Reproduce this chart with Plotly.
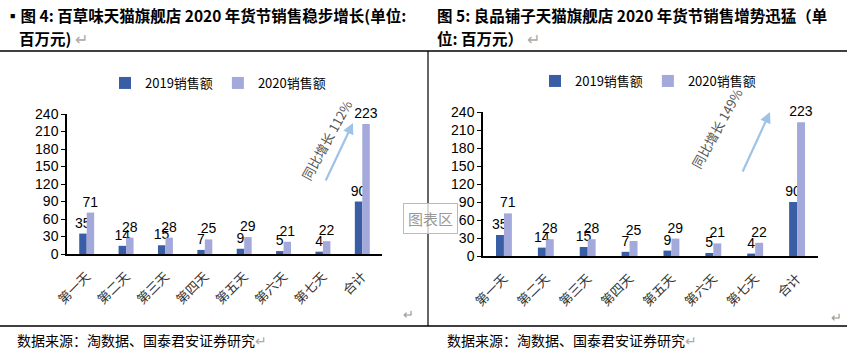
import plotly.graph_objects as go

# ---------------- data ----------------
categories = ["第一天", "第二天", "第三天", "第四天", "第五天", "第六天", "第七天", "合计"]
baicao_2019 = [35, 14, 15, 7, 9, 5, 4, 90]
baicao_2020 = [71, 28, 28, 25, 29, 21, 22, 223]
liangpin_2019 = [35, 14, 15, 7, 9, 5, 4, 90]
liangpin_2020 = [71, 28, 28, 25, 29, 21, 22, 223]
series_names = ["2019销售额", "2020销售额"]
y_ticks = [0, 30, 60, 90, 120, 150, 180, 210, 240]
growth_left = "同比增长 112%"
growth_right = "同比增长 149%"
title_left_1 = "▪图 4: 百草味天猫旗舰店 2020 年货节销售稳步增长(单位:"
title_left_2 = "百万元)"
title_right_1 = "图 5: 良品铺子天猫旗舰店 2020 年货节销售增势迅猛（单"
title_right_2 = "位: 百万元）"
source_text = "数据来源：淘数据、国泰君安证券研究"

W, H = 849, 356
C_DARK = "#3A5EA6"
C_LIGHT = "#A3A9DA"
CJK = "Noto Sans CJK SC"
NUM = "Liberation Sans, Arial"

def px(x):
    return x / W

def py(y):
    return 1 - y / H

fig = go.Figure()

def add_bars(vals19, vals20, xa, ya, legend):
    for name, vals, col in [(series_names[0], vals19, C_DARK), (series_names[1], vals20, C_LIGHT)]:
        fig.add_trace(go.Bar(
            x=categories, y=vals, name=name, marker=dict(color=col, line=dict(width=0)),
            text=[str(v) for v in vals], textposition="outside", constraintext="none",
            textfont=dict(family=NUM, size=14, color="#000"), cliponaxis=False,
            xaxis=xa, yaxis=ya, legend=legend,
        ))

add_bars(baicao_2019, baicao_2020, "x", "y", "legend")
add_bars(liangpin_2019, liangpin_2020, "x2", "y2", "legend2")

xcommon = dict(type="category", showline=True, linecolor="#000", linewidth=1.5,
               ticks="", tickangle=-45, showgrid=False, automargin=False, ticklabelstandoff=8,
               tickfont=dict(family=CJK, size=13, color="#333"))
ycommon = dict(range=[0, 240], tickvals=y_ticks, showline=True, linecolor="#000", linewidth=1.5,
               ticks="outside", ticklen=4, tickcolor="#000", showgrid=False, zeroline=False,
               automargin=False, tickfont=dict(family=NUM, size=14, color="#000"))

fig.update_layout(
    width=W, height=H, margin=dict(l=0, r=0, t=0, b=0, autoexpand=False),
    paper_bgcolor="white", plot_bgcolor="rgba(0,0,0,0)",
    barmode="group", bargap=0.62, bargroupgap=0.0,
    xaxis=dict(domain=[px(67), px(382)], anchor="y", **xcommon),
    yaxis=dict(domain=[py(254), py(114)], anchor="x", **ycommon),
    xaxis2=dict(domain=[px(483), px(818)], anchor="y2", **xcommon),
    yaxis2=dict(domain=[py(256), py(112)], anchor="x2", **ycommon),
    legend=dict(orientation="h", x=px(218), xanchor="center", y=py(83), yanchor="middle",
                font=dict(family=CJK, size=13, color="#000"), bgcolor="rgba(0,0,0,0)",
                itemwidth=30),
    legend2=dict(orientation="h", x=px(648), xanchor="center", y=py(81), yanchor="middle",
                 font=dict(family=CJK, size=13, color="#000"), bgcolor="rgba(0,0,0,0)",
                 itemwidth=30),
    showlegend=True,
)

# frame lines
fig.add_shape(type="line", xref="paper", yref="paper", x0=0, x1=px(847), y0=py(51), y1=py(51),
              line=dict(color="#000", width=1.5))
fig.add_shape(type="line", xref="paper", yref="paper", x0=0, x1=px(847), y0=py(326), y1=py(326),
              line=dict(color="#000", width=1.5))
fig.add_shape(type="line", xref="paper", yref="paper", x0=px(428), x1=px(428), y0=py(51), y1=py(326),
              line=dict(color="#000", width=1.2))

# titles
def txt(x, y, s, size=15, bold=False, color="#000", anchor="left", family=CJK):
    fig.add_annotation(xref="paper", yref="paper", x=px(x), y=py(y), text=("<b>%s</b>" % s) if bold else s,
                       showarrow=False, xanchor=anchor, yanchor="middle",
                       font=dict(family=family, size=size, color=color))

txt(3, 15, title_left_1, size=15.5, bold=True)
txt(17, 38, title_left_2 + "<span style='color:#aaa;font-weight:normal'> ↵</span>", size=15.5, bold=True)
txt(435, 15, title_right_1, size=15.5, bold=True)
txt(435, 38, title_right_2 + "<span style='color:#aaa;font-weight:normal'> ↵</span>", size=15.5, bold=True)
txt(15, 340, source_text + "<span style='color:#aaa'>↵</span>", size=14)
txt(445, 340, source_text + "<span style='color:#aaa'>↵</span>", size=14)
txt(408, 313, "↵", size=13, color="#999", anchor="center")
txt(836, 316, "↵", size=13, color="#999", anchor="center")

# growth arrows and text
for (hx, hy, tx, ty, cx, cy, label) in [(353, 123, 325, 182, 326, 140, growth_left),
                                        (770, 112, 742, 173, 749, 128, growth_right)]:
    fig.add_annotation(xref="paper", yref="paper", x=px(hx), y=py(hy), ax=tx - hx, ay=ty - hy,
                       showarrow=True, arrowhead=2, arrowsize=1, arrowwidth=2.2, arrowcolor="#9DC3E6",
                       text="")
    fig.add_annotation(xref="paper", yref="paper", x=px(cx), y=py(cy), text=label, showarrow=False,
                       textangle=-61, font=dict(family=CJK, size=13, color="#555"))

# "图表区" tooltip box
fig.add_annotation(xref="paper", yref="paper", x=px(430), y=py(218), text="图表区", showarrow=False,
                   xanchor="center", yanchor="middle", font=dict(family=CJK, size=15, color="#999"),
                   bgcolor="rgba(255,255,255,0.75)", bordercolor="#bbb", borderwidth=1, borderpad=4)

fig.write_html("out.html", config={"displayModeBar": False},
               post_script="document.body.style.margin='0px';document.body.style.overflow='hidden';")
